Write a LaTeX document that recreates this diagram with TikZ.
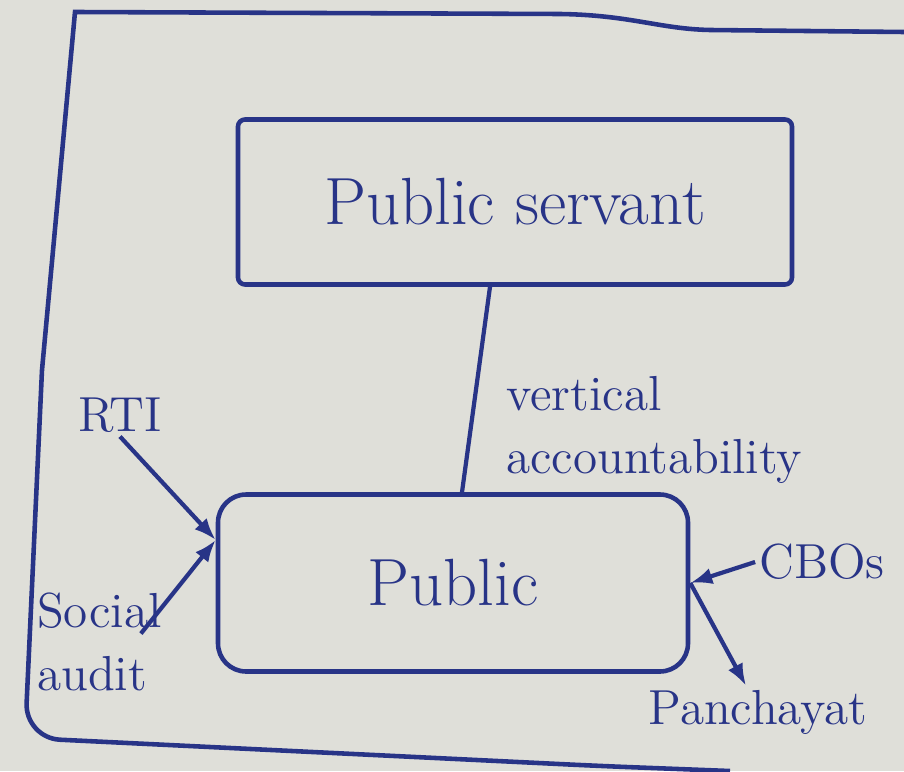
\documentclass[tikz,border=0pt]{standalone}
\usepackage{tikz}
\usetikzlibrary{arrows.meta, positioning, calc}
\definecolor{ink}{RGB}{40,52,135}
\definecolor{board}{RGB}{223,223,217}

\begin{document}
\begin{tikzpicture}[
  box/.style={rectangle, draw=ink, line width=1.3pt, text=ink, align=center, font=\fontsize{19}{22}\selectfont},
  label/.style={text=ink, align=left, inner sep=1pt, font=\fontsize{14}{18}\selectfont},
  link/.style={ink, line width=1.2pt},
  arrow/.style={-{Latex[length=2.2mm]}, ink, line width=1.2pt},
  frame/.style={ink, line width=1.3pt}
]
\fill[board] (0,0) rectangle (9.04,-7.71);
\useasboundingbox (0,0) rectangle (9.04,-7.71);

% outer frame
\draw[frame] (9.04,-0.32) -- (7.1,-0.30) .. controls (6.6,-0.29) and (6.3,-0.15) .. (5.6,-0.14) -- (0.75,-0.12) -- (0.42,-3.7) {[rounded corners=0.35cm] -- (0.25,-7.38) -- (6.0,-7.66)} -- (7.3,-7.71);

\node[box, rounded corners=2pt, minimum width=5.54cm, minimum height=1.65cm] (servant) at (5.15,-2.02) {Public servant};
\node[box, rounded corners=8pt, minimum width=4.70cm, minimum height=1.77cm] (public) at (4.53,-5.83) {Public};

\draw[link] ([xshift=-0.25cm]servant.south) -- ([xshift=0.09cm]public.north);
\node[label, anchor=west] (vert) at (5.02,-4.30) {vertical\\accountability};

\node[label] (rti) at (1.20,-4.15) {RTI};
\node[label, anchor=west] (social) at (0.33,-6.42) {Social\\audit};
\node[label] (cbos) at (8.22,-5.62) {CBOs};
\node[label] (panch) at (7.58,-7.12) {Panchayat};

\coordinate (leftin) at ($(public.west)+(0,0.43)$);
\draw[arrow] (rti.south) -- (leftin);
\draw[arrow] ([xshift=-0.25cm,yshift=-0.45cm]social.north east) -- (leftin);
\draw[arrow] (cbos.west) -- (public.east);
\draw[arrow] (public.east) -- ([xshift=-0.12cm]panch.north);
\end{tikzpicture}
\end{document}
